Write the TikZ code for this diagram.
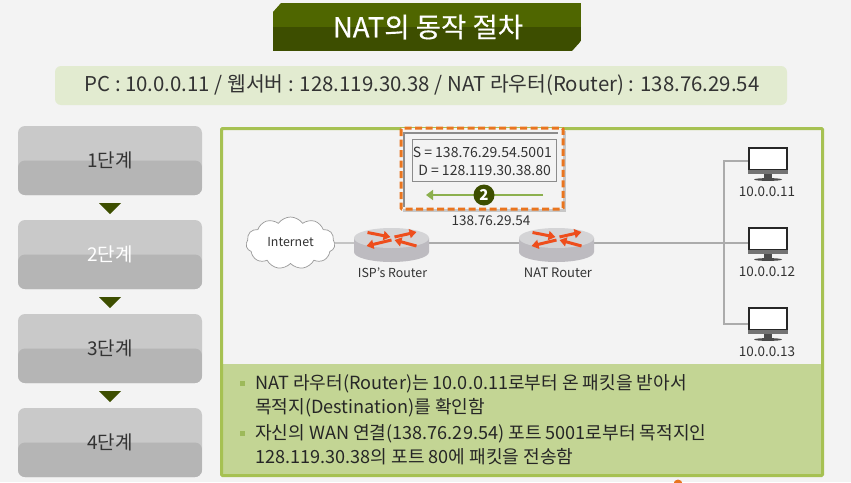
\documentclass[tikz,border=0pt]{standalone}
\usepackage{fontspec}
\setmainfont{Noto Sans CJK KR}
\usetikzlibrary{shapes.symbols,arrows.meta,calc}
\definecolor{pagebg}{HTML}{F3F3F3}
\definecolor{panelgreen}{HTML}{A6C152}
\definecolor{lowergreen}{HTML}{C3D594}
\definecolor{barbg}{HTML}{E2EBD0}
\definecolor{darkol}{HTML}{3D4E00}
\definecolor{lightol}{HTML}{4F6600}
\definecolor{txt}{HTML}{333333}
\definecolor{stepup}{HTML}{C9C9C9}
\definecolor{stepdn}{HTML}{B5B5B5}
\definecolor{wire}{HTML}{ABABAB}
\definecolor{dashor}{HTML}{E9751F}
\definecolor{arrgreen}{HTML}{8CB04E}
\definecolor{routertop}{HTML}{D4D4D6}
\definecolor{routerside}{HTML}{BDBBC0}
\definecolor{routerred}{HTML}{EE4E1C}
\definecolor{bulletg}{HTML}{9DB95A}
\tikzset{
  x=1pt,y=-1pt,
  stepbox/.style={rounded corners=7pt,minimum width=184pt,minimum height=69pt,inner sep=0pt,fill=stepup,text=txt,
    font=\fontsize{19}{21}\selectfont,
    path picture={\fill[stepdn] ($(path picture bounding box.west)+(0,0)$) rectangle (path picture bounding box.south east);}},
  downtri/.style={fill=darkol},
  wireline/.style={draw=wire,line width=1.2pt},
  lbl/.style={font=\fontsize{13.5}{15}\selectfont,text=txt,inner sep=0pt},
  pcnode/.style={minimum width=40pt,minimum height=34pt,inner sep=0pt},
  routernode/.style={minimum width=75pt,minimum height=34pt,inner sep=0pt},
  bodytext/.style={font=\fontsize{18.1}{20}\selectfont,text=black!85,inner sep=0pt,anchor=west},
  bul/.style={fill=bulletg},
  arrred/.style={draw=routerred,line width=3pt,-{Triangle[width=9pt,length=7pt]}},
}
\newcommand{\routericon}[2]{%
  \begin{scope}[shift={(#1,#2)}]
    \fill[routerside] (-37.5,-5) -- (-37.5,9) arc[x radius=37.5,y radius=10,start angle=180,end angle=0] -- (37.5,-5) -- cycle;
    \fill[routertop] (0,-5) ellipse[x radius=37.5,y radius=10];
    \draw[arrred] (-24,-10.5) -- (-1,-6);
    \draw[arrred] (3,-6) -- (25,-11);
    \draw[arrred] (0,-3) -- (-25,3);
    \draw[arrred] (25,3) -- (3,-3);
  \end{scope}}
\newcommand{\pcicon}[2]{%
  \begin{scope}[shift={(#1,#2)}]
    \fill[black!85] (-20,-17) rectangle (20,6);
    \fill[white] (-18,-15) rectangle (18,5);
    \fill[black!55] (-20,6) rectangle (20,10);
    \fill[black!70] (-4,10) rectangle (4,15);
    \fill[black!70] (0,15.5) ellipse[x radius=14,y radius=1.4];
  \end{scope}}
\begin{document}
\begin{tikzpicture}
\useasboundingbox (0,0) rectangle (851,482);
\clip (0,0) rectangle (851,482);
\fill[pagebg] (0,0) rectangle (851,482);
\fill[dashor] (678,484) circle[radius=4.5];
% banner
\begin{scope}
  \clip (281,3) -- (581,3) -- (581,41) -- (572,51) -- (273,51) -- (273,12) -- cycle;
  \fill[lightol] (273,3) rectangle (581,27);
  \fill[darkol] (273,27) rectangle (581,51);
\end{scope}
\node[text=white,inner sep=0pt,font=\fontsize{27.5}{29}\selectfont\addfontfeature{FakeBold=0.3}] (title) at (428,27) {NAT의 동작 절차};
% info bar
\fill[barbg,rounded corners=6pt] (55,66) rectangle (787,105);
\node[text=txt,inner sep=0pt,font=\fontsize{20.4}{22}\selectfont] (info) at (422,85) {PC : 10.0.0.11 / 웹서버 : 128.119.30.38 / NAT 라우터(Router) : 138.76.29.54};
% steps
\node[stepbox] (s1) at (110,160.5) {1단계};
\node[stepbox,text=white] (s2) at (110,254.5) {2단계};
\node[stepbox] (s3) at (110,348.5) {3단계};
\node[stepbox] (s4) at (110,442.5) {4단계};
\fill[downtri] (99,203) -- (121,203) -- (110,214) -- cycle;
\fill[downtri] (99,297) -- (121,297) -- (110,308) -- cycle;
\fill[downtri] (99,391) -- (121,391) -- (110,402) -- cycle;
% panel
\fill[lowergreen] (221.5,364) rectangle (822.5,475.5);
\draw[panelgreen,line width=3pt,rounded corners=1pt] (221.5,128.5) rectangle (822.5,475.5);
% network nodes
\node[cloud,cloud puffs=11,cloud puff arc=110,aspect=1.7,draw=black!40,fill=white,line width=0.7pt,minimum width=89pt,minimum height=52pt,inner sep=0pt] (inet) at (290.5,243) {};
\node[routernode] (isp) at (391.5,243) {};
\node[routernode] (nat) at (556.5,243) {};
\node[pcnode] (pc1) at (768,161) {};
\node[pcnode] (pc2) at (768,243) {};
\node[pcnode] (pc3) at (768,324) {};
\coordinate (sw) at (724,243);
\draw[wireline] (inet.east) -- (isp.west);
\draw[wireline] (isp.east) -- (nat.west);
\draw[wireline] (nat.east) -- (pc2.west);
\draw[wireline,line width=1.6pt] (pc1.west) -| (sw);
\draw[wireline,line width=1.6pt] (pc3.west) -| (sw);
\routericon{391.5}{243}
\routericon{556.5}{243}
\pcicon{768}{164}
\pcicon{768}{244}
\pcicon{768}{324}
\node[lbl,font=\fontsize{12.4}{15}\selectfont] (tinet) at (290.5,242) {Internet};
\node[lbl,font=\fontsize{12.4}{15}\selectfont] (tisp) at (392.5,273) {ISP's Router};
\node[lbl,font=\fontsize{13}{15}\selectfont] (tnat) at (558,273) {NAT Router};
\node[lbl] (t1) at (767,192) {10.0.0.11};
\node[lbl] (t2) at (767,272) {10.0.0.12};
\node[lbl] (t3) at (767,352) {10.0.0.13};
\node[lbl] (tip) at (491,221) {138.76.29.54};
% callout
\fill[black!22] (403,131) rectangle (566,212);
\fill[pagebg] (401,128) rectangle (563,209);
\draw[black!45,line width=1.4pt] (404,207) -- (404,133) -- (558,133);
\draw[dashor,line width=3pt,dash pattern=on 7pt off 3.5pt,rounded corners=1pt] (401,128) rectangle (563,209);
\node[draw=black!45,fill=pagebg,line width=1pt,minimum width=144pt,minimum height=42pt,inner sep=0pt] (pkt) at (484,160) {};
\node[lbl,anchor=east,font=\fontsize{14}{16}\selectfont] (ps) at (552,152) {S = 138.76.29.54.5001};
\node[lbl,anchor=east,font=\fontsize{14}{16}\selectfont] (pd) at (551,170) {D = 128.119.30.38.80};
\coordinate (arrR) at (543,195);
\coordinate (arrL) at (426,195);
\draw[arrgreen,line width=2.6pt,-{Triangle[width=10pt,length=7pt]}] (arrR) -- (arrL);
\node[circle,fill=darkol,text=white,minimum size=21pt,inner sep=0pt,font=\fontsize{15}{16}\selectfont\bfseries] (two) at (484,195) {2};
% text
\fill[bul] (240,381) rectangle (245,386);
\fill[bul] (240,431) rectangle (245,436);
\node[bodytext] (b1) at (255,384) {NAT 라우터(Router)는 10.0.0.11로부터 온 패킷을 받아서};
\node[bodytext] (b2) at (255,408) {목적지(Destination)를 확인함};
\node[bodytext] (b3) at (255,434) {자신의 WAN 연결(138.76.29.54) 포트 5001로부터 목적지인};
\node[bodytext] (b4) at (255,457) {128.119.30.38의 포트 80에 패킷을 전송함};
\end{tikzpicture}
\end{document}
